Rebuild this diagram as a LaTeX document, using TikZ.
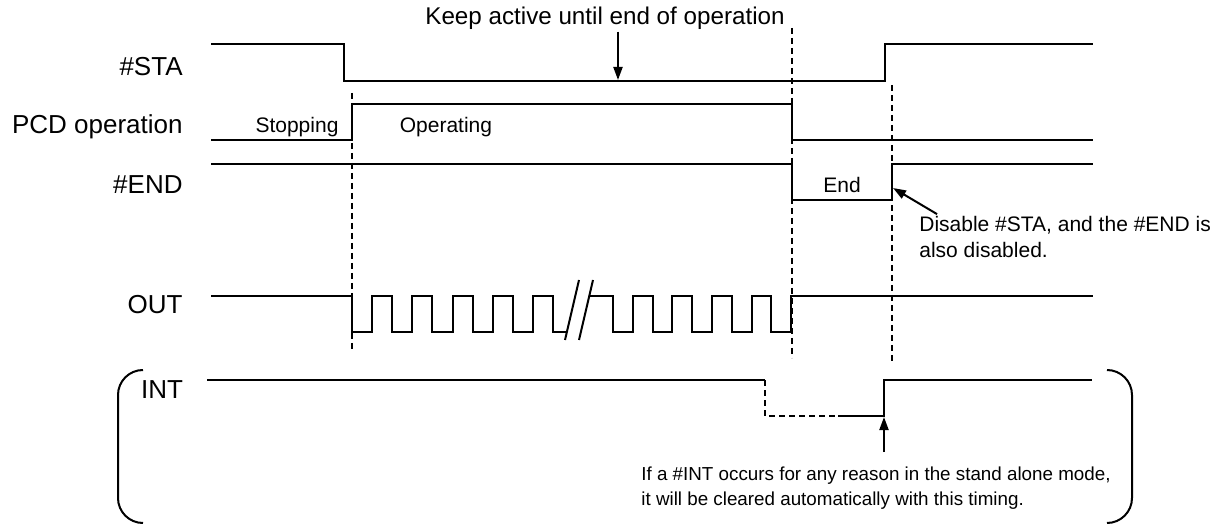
\documentclass[tikz,border=0pt]{standalone}
\usepackage{fontspec}
\setmainfont{Liberation Sans}
\usetikzlibrary{arrows.meta}

\tikzset{
  sig/.style={line width=1pt, line join=miter},
  guide/.style={line width=0.6pt, dash pattern=on 3pt off 2pt},
  note/.style={line width=1pt, -{Triangle[length=6.5pt,width=4.5pt]}},
  bigtxt/.style={font=\fontsize{13}{15}\selectfont, inner sep=1pt},
  smalltxt/.style={font=\fontsize{10.5}{12.8}\selectfont, inner sep=1pt, align=left},
  bracket/.style={line width=1pt, rounded corners=12.5pt},
}

\begin{document}
\begin{tikzpicture}[x=0.5pt, y=-0.5pt]
\useasboundingbox (0,0) rectangle (1223,524);
\def\xa{211}  % start of all signal lines
\def\xe{1093} % end of all signal lines
\def\ton{352} % start of operation
\def\toff{792} % end of operation
\def\tclr{892} % #STA released

% =========================================================
% signal names (left)
% =========================================================
\node[bigtxt, anchor=east] (lsta) at (185,67) {\#STA};
\node[bigtxt, anchor=east] (lpcd) at (185,127) {PCD operation};
\node[bigtxt, anchor=east] (lend) at (185,185) {\#END};
\node[bigtxt, anchor=east] (lout) at (185,305) {OUT};
\node[bigtxt] (lint) at (162,390) {INT};

% =========================================================
% timing guides (dashed)
% =========================================================
\draw[guide] (\ton,93) -- (\ton,350);
\draw[guide] (\toff,28) -- (\toff,358);
\draw[guide] (\tclr,85) -- (\tclr,362);

% =========================================================
% #STA, PCD operation, #END
% =========================================================
\draw[sig] (\xa,44) -- (344,44) -- (344,81) -- (885,81) -- (885,44) -- (\xe,44);
\draw[sig] (\xa,140) -- (\ton,140) -- (\ton,104) -- (\toff,104) -- (\toff,140) -- (\xe,140);
\draw[sig] (\xa,164) -- (\toff,164) -- (\toff,200) -- (\tclr,200) -- (\tclr,164) -- (\xe,164);

\node[smalltxt] (stop) at (297,127) {Stopping};
\node[smalltxt] (oper) at (446,127) {Operating};
\node[smalltxt] (endl) at (842,185) {End};

% text above
\node[bigtxt, font=\fontsize{12.1}{14}\selectfont] (keep) at (605,18) {Keep active until end of operation};
\coordinate (keeptip) at (618,80);
\draw[note] (keep.south -| keeptip) -- (keeptip);

% note on #END
\node[smalltxt, anchor=west] (disnote) at (917,237) {Disable \#STA, and the \#END is\\also disabled.};
\coordinate (endtip) at (893,188);
\draw[note] ([xshift=10pt]disnote.north west) -- (endtip);

% =========================================================
% OUT pulse train (with break)
% =========================================================
\draw[sig] (\xa,296) -- (\ton,296)
  \foreach \k in {1,...,5} { -- ++(0,36) -- ++(20.1,0) -- ++(0,-36) -- ++(20.1,0) }
  -- ++(0,36) -- (567,332);
\draw[sig] (589,296) -- (613,296)
  \foreach \k in {1,...,4} { -- ++(0,36) -- ++(19.8,0) -- ++(0,-36) -- ++(19.8,0) }
  -- ++(0,36) -- ++(19.8,0) -- ++(0,-36) -- (\xe,296);
% break marks
\draw[sig] (565,340) -- (579,280);
\draw[sig] (579,340) -- (593,280);

% =========================================================
% INT (stand alone mode)
% =========================================================
\draw[sig] (207,380) -- (765,380);
\draw[guide] (765,380) -- (765,416) -- (838,416);
\draw[sig] (838,416) -- (884,416) -- (884,380) -- (1092,380);

\draw[bracket] (143,370) -- (118,370) -- (118,523) -- (143,523);
\draw[bracket] (1107,370) -- (1132,370) -- (1132,523) -- (1107,523);

\node[smalltxt, font=\fontsize{9.4}{12.6}\selectfont, anchor=west] (intnote) at (639,488) {If a \#INT occurs for any reason in the stand alone mode,\\it will be cleared automatically with this timing.};
\coordinate (inttip) at (884,417);
\coordinate (intfoot) at (884,452);
\draw[note] (intfoot) -- (inttip);

\end{tikzpicture}
\end{document}
